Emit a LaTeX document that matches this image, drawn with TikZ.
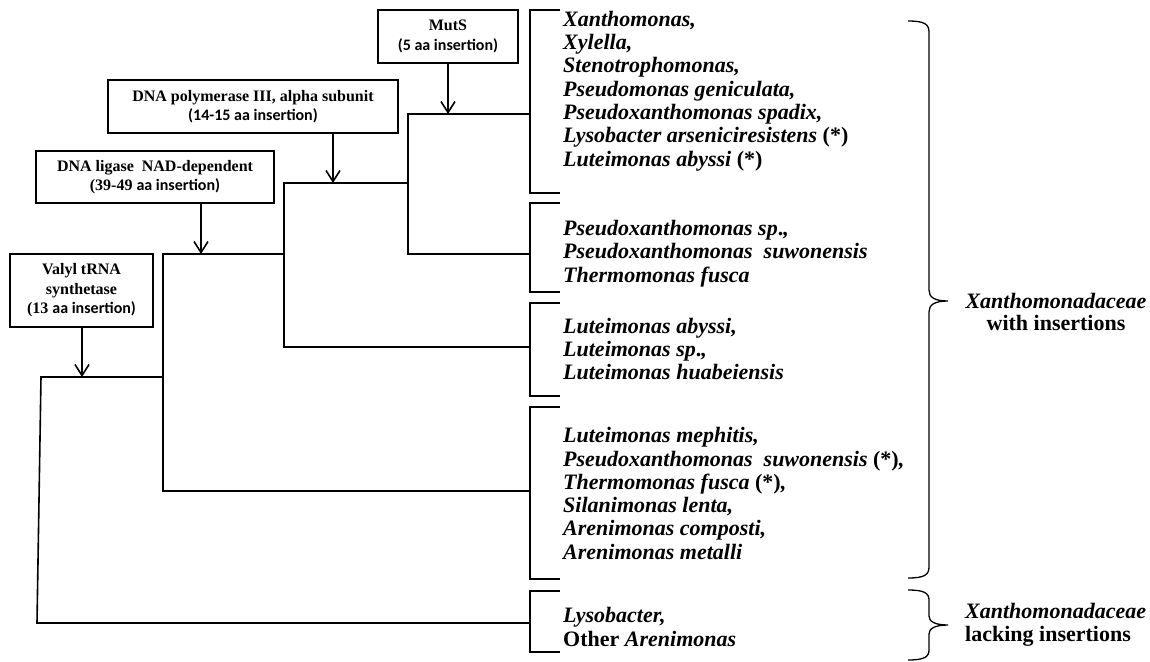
\documentclass[tikz,border=0pt]{standalone}
\usepackage{fontspec}
\setmainfont{Liberation Serif}
\newfontfamily\calib{Carlito}
\usetikzlibrary{arrows.meta}
\begin{document}
\begin{tikzpicture}[x=1pt,y=-1pt,
  tree/.style={line width=1.6pt, line join=miter},
  brk/.style={line width=1.6pt},
  brc/.style={line width=1.3pt},
  box/.style={draw, line width=1.6pt, align=center, inner sep=0pt,
    font=\fontsize{16}{19.5}\selectfont\bfseries},
  arr/.style={line width=1.6pt, -{Straight Barb[length=11pt,width=14pt]}},
  taxa/.style={align=left, anchor=west, inner sep=0pt,
    font=\fontsize{22}{23.3}\selectfont\bfseries\itshape},
  grp/.style={inner sep=0pt, font=\fontsize{22}{22.5}\selectfont\bfseries}
]
\useasboundingbox (0,0) rectangle (1150,661);

% ---- boxes
\node[box, minimum width=140pt, minimum height=53pt] (muts) at (448,36.5)
  {MutS\\{\calib (5 aa insertion)}};
\node[box, minimum width=290pt, minimum height=53pt] (pol) at (253,106.5)
  {DNA polymerase III, alpha subunit\\{\calib (14-15 aa insertion)}};
\node[box, minimum width=238pt, minimum height=52pt] (lig) at (155,177)
  {DNA ligase\ \ NAD-dependent\\(39-49 {\calib aa insertion)}};
\node[box, minimum width=143pt, minimum height=73pt] (val) at (81.5,290.5)
  {Valyl tRNA\\synthetase\\(13 {\calib aa insertion)}};

% ---- tree coordinates
\coordinate (c1) at (530,114);
\coordinate (c2) at (530,254);
\coordinate (c3) at (530,347);
\coordinate (c4) at (530,491);
\coordinate (c5) at (530,623);
\coordinate (m1) at (408,114);
\coordinate (m2) at (408,254);
\coordinate (ma) at (448,114);
\coordinate (p0) at (408,183);
\coordinate (p1) at (284,183);
\coordinate (p2) at (284,347);
\coordinate (pa) at (333,183);
\coordinate (l0) at (284,254);
\coordinate (l1) at (163,254);
\coordinate (l2) at (163,491);
\coordinate (la) at (201,254);
\coordinate (v0) at (163,377);
\coordinate (v1) at (41,377);
\coordinate (v2) at (37,623);
\coordinate (va) at (82,377);

% ---- tree
\draw[tree] (c1) -- (m1) -- (m2) -- (c2);
\draw[tree] (p0) -- (p1) -- (p2) -- (c3);
\draw[tree] (l0) -- (l1) -- (l2) -- (c4);
\draw[tree] (v0) -- (v1) -- (v2) -- (c5);

% ---- arrows
\draw[arr] (muts.south -| ma) -- (ma);
\draw[arr] (pol.south -| pa) -- (pa);
\draw[arr] (lig.south -| la) -- (la);
\draw[arr] (val.south -| va) -- (va);

% ---- clade brackets
\draw[brk] (560,10) -- (530,10) -- (530,193) -- (560,193);
\draw[brk] (560,203) -- (530,203) -- (530,292) -- (560,292);
\draw[brk] (560,303) -- (530,303) -- (530,396) -- (560,396);
\draw[brk] (560,407) -- (530,407) -- (530,579) -- (560,579);
\draw[brk] (560,591) -- (530,591) -- (530,652) -- (560,652);

% ---- clade texts
\node[taxa] (t1) at (563,91) {Xanthomonas,\\Xylella,\\Stenotrophomonas,\\Pseudomonas geniculata,\\Pseudoxanthomonas spadix,\\Lysobacter arseniciresistens \textup{(*)}\\Luteimonas abyssi \textup{(*)}};
\node[taxa] (t2) at (563,253.5) {Pseudoxanthomonas sp\textup{.},\\Pseudoxanthomonas\ \ suwonensis\\Thermomonas fusca};
\node[taxa] (t3) at (563,349) {Luteimonas abyssi,\\Luteimonas sp\textup{.},\\Luteimonas huabeiensis};
\node[taxa] (t4) at (563,493.5) {Luteimonas mephitis,\\Pseudoxanthomonas\ \ suwonensis \textup{(*)},\\Thermomonas fusca \textup{(*)},\\Silanimonas lenta,\\Arenimonas composti,\\Arenimonas metalli};
\node[taxa] (t5) at (563,627) {Lysobacter,\\\textup{Other} Arenimonas};

% ---- group braces
\draw[brc] (908,21) .. controls (924,21) and (929,24) .. (929,32) -- (929,290)
  .. controls (929,297) and (934,301) .. (948,301)
  .. controls (934,301) and (929,305) .. (929,312) -- (929,567)
  .. controls (929,575) and (924,578) .. (908,578);
\draw[brc] (908,590) .. controls (924,590) and (929,593) .. (929,600) -- (929,616)
  .. controls (929,621) and (934,625) .. (948,625)
  .. controls (934,625) and (929,629) .. (929,634) -- (929,650)
  .. controls (929,657) and (924,660) .. (908,660);

% ---- group labels
\node[grp, align=center] (g1) at (1056,312) {\itshape Xanthomonadaceae\\with insertions};
\node[grp, align=left, anchor=west] (g2) at (965,625) {\itshape Xanthomonadaceae\\lacking insertions};
\end{tikzpicture}
\end{document}
